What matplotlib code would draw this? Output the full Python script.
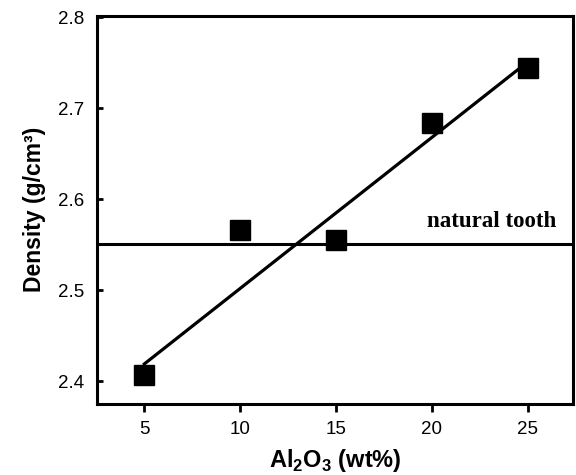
import numpy as np
import matplotlib
matplotlib.use("Agg")
import matplotlib.pyplot as plt

plt.rcParams['font.family'] = ['Liberation Sans', 'DejaVu Sans']
plt.rcParams['mathtext.fontset'] = 'custom'
plt.rcParams['mathtext.rm'] = 'Liberation Sans'
plt.rcParams['mathtext.bf'] = 'Liberation Sans:bold'

# Alumina content (wt%) and measured density (g/cm3)
al2o3 = np.array([5, 10, 15, 20, 25])
density = np.array([2.407, 2.566, 2.555, 2.684, 2.745])

# Linear trend drawn between the end compositions
fit_x = np.array([5, 25])
fit_y = np.array([2.419, 2.751])

tooth_density = 2.551

fig = plt.figure(figsize=(5.76, 4.75), dpi=100)
ax = fig.add_axes([0.168, 0.1495, 0.827, 0.8175])

ax.plot(fit_x, fit_y, color='black', lw=2.3, zorder=2)
ax.axhline(tooth_density, color='black', lw=2.2, zorder=2)
ax.plot(al2o3, density, 's', color='black', markersize=14.5, zorder=3)

ax.text(26.5, 2.570, 'natural tooth', ha='right', va='baseline',
        fontsize=16.5, fontweight='bold', family='Liberation Serif')

ax.set_xlim(2.52, 27.38)
ax.set_ylim(2.375, 2.802)
ax.set_xticks([5, 10, 15, 20, 25])
ax.set_yticks([2.4, 2.5, 2.6, 2.7, 2.8])
ax.set_yticklabels(['2.4', '2.5', '2.6', '2.7', '2.8'])

for s in ax.spines.values():
    s.set_linewidth(2.2)

ax.tick_params(axis='x', direction='out', length=6, width=2, labelsize=13.5, pad=6)
ax.tick_params(axis='y', direction='in', length=4, width=2, labelsize=13.5, pad=9)

ax.set_xlabel(r'Al$_\mathbf{2}$O$_\mathbf{3}$ (wt%)', fontsize=17,
              fontweight='bold', labelpad=7)
ax.set_ylabel('Density (g/cm³)', fontsize=16.5, fontweight='bold', labelpad=9)

fig.savefig('out.png', dpi=100)
